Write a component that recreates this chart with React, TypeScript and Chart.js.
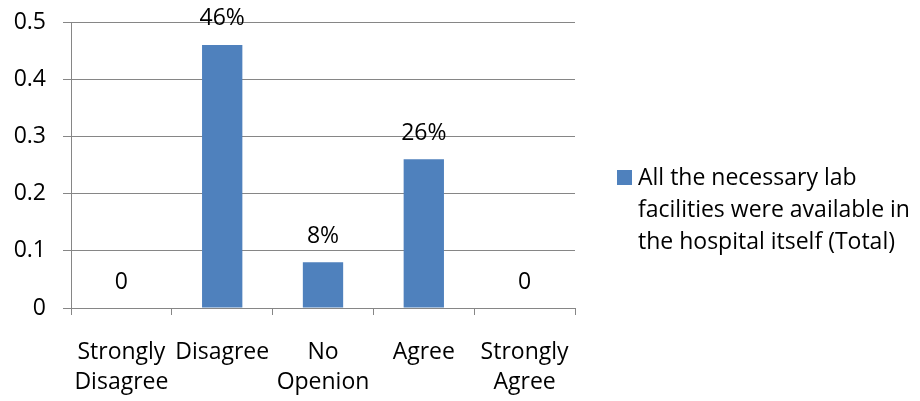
import React, { useEffect, useRef } from "react";
import { Chart, registerables } from "chart.js";

Chart.register(...registerables);

const categories: string[][] = [
  ["Strongly", "Disagree"],
  ["Disagree"],
  ["No", "Openion"],
  ["Agree"],
  ["Strongly", "Agree"],
];
const values: number[] = [0, 0.46, 0.08, 0.26, 0];
const valueLabels: string[] = ["0", "46%", "8%", "26%", "0"];
const legendLines: string[] = [
  "All the necessary lab",
  "facilities were available in",
  "the hospital itself (Total)",
];
const yTicks: number[] = [0, 0.1, 0.2, 0.3, 0.4, 0.5];

const FONT = "'Open Sans', Lato, sans-serif";
const FS = 23;
const BAR = "#4F81BD";
const GRID = "#868686";

export default function App() {
  const ref = useRef<HTMLCanvasElement>(null);

  useEffect(() => {
    if (!ref.current) return;
    const labelPlugin = {
      id: "valueLabels",
      afterDatasetsDraw(chart: any) {
        const ctx = chart.ctx;
        const meta = chart.getDatasetMeta(0);
        ctx.save();
        ctx.font = `${FS}px ${FONT}`;
        ctx.fillStyle = "#000";
        ctx.textAlign = "center";
        ctx.textBaseline = "middle";
        meta.data.forEach((bar: any, i: number) => {
          ctx.fillText(valueLabels[i], bar.x, bar.y - 26);
        });
        // legend
        const lx = 638;
        const ly = 178;
        ctx.fillStyle = BAR;
        ctx.fillRect(617, 170, 15, 15);
        ctx.fillStyle = "#000";
        ctx.textAlign = "left";
        legendLines.forEach((t, i) => ctx.fillText(t, lx, ly + i * 32));
        ctx.restore();
      },
    };

    const chart = new Chart(ref.current, {
      type: "bar",
      data: {
        labels: categories,
        datasets: [
          {
            label: legendLines.join(" "),
            data: values,
            backgroundColor: BAR,
            borderWidth: 0,
            categoryPercentage: 1,
            barPercentage: 0.4,
          },
        ],
      },
      options: {
        animation: false,
        responsive: false,
        maintainAspectRatio: false,
        layout: { padding: { top: 22, right: 345, left: 0, bottom: 0 } },
        plugins: {
          legend: { display: false },
          tooltip: { enabled: false },
        },
        scales: {
          x: {
            grid: {
              offset: true,
              drawOnChartArea: false,
              color: GRID,
              tickLength: 7,
              lineWidth: 1,
            },
            border: { color: GRID },
            ticks: {
              color: "#000",
              font: { family: FONT, size: FS, lineHeight: 30 / 23 },
              padding: 22,
              maxRotation: 0,
              autoSkip: false,
            },
            afterFit(scale: any) {
              scale.height = 93;
            },
          },
          y: {
            min: 0,
            max: 0.5,
            afterBuildTicks(scale: any) {
              scale.ticks = yTicks.map((v) => ({ value: v }));
            },
            grid: { color: GRID, tickLength: 8, lineWidth: 1 },
            border: { color: GRID },
            ticks: {
              color: "#000",
              font: { family: FONT, size: FS, lineHeight: 1.2 },
              padding: 17,
              callback: (v: any) => String(v),
            },
            afterFit(scale: any) {
              scale.width = 71;
              scale.paddingTop = 0;
              scale.paddingBottom = 0;
            },
          },
        },
      },
      plugins: [labelPlugin],
    });
    return () => chart.destroy();
  }, []);

  return (
    <div style={{ position: "fixed", left: 0, top: 0, width: 920, height: 401, background: "#fff" }}>
      <canvas ref={ref} width={920} height={401} style={{ width: 920, height: 401 }} />
    </div>
  );
}
